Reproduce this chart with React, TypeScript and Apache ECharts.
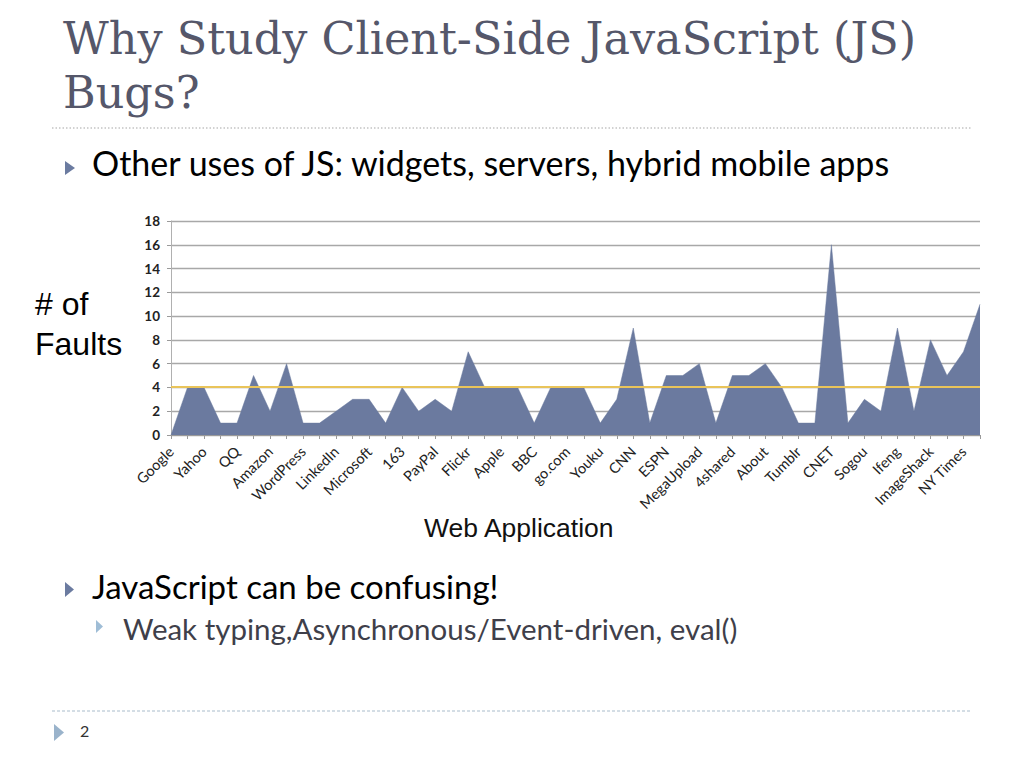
import React, { useEffect, useRef } from "react";
import * as echarts from "echarts";

const categories: string[] = [
  "Google", "Facebook", "Yahoo", "YouTube", "QQ", "Baidu", "Amazon", "Wikipedia",
  "WordPress", "Blogger", "LinkedIn", "Windows Live", "Microsoft", "Twitter", "163", "Taobao",
  "PayPal", "Sina", "Flickr", "MSN", "Apple", "eBay", "BBC", "Bing",
  "go.com", "Yandex", "Youku", "VKontakte", "CNN", "Mail.ru", "ESPN", "Ask",
  "MegaUpload", "Craigslist", "4shared", "IMDb", "About", "Adobe", "Tumblr", "Hao123",
  "CNET", "Soso", "Sogou", "Weibo", "Ifeng", "FC2", "ImageShack", "Rakuten",
  "NY Times", "Orkut",
];

const faults: number[] = [
  0, 4, 4, 1, 1, 5, 2, 6, 1, 1,
  2, 3, 3, 1, 4, 2, 3, 2, 7, 4,
  4, 4, 1, 4, 4, 4, 1, 3, 9, 1,
  5, 5, 6, 1, 5, 5, 6, 4, 1, 1,
  16, 1, 3, 2, 9, 2, 8, 5, 7, 11,
];

const meanFaults = 4.1;
const yTicks = { min: 0, max: 18, interval: 2 };

const titleLines = ["Why Study Client-Side JavaScript (JS)", "Bugs?"];
const bullet1 = "Other uses of JS: widgets, servers, hybrid mobile apps";
const bullet2 = "JavaScript can be confusing!";
const subBullet = "Weak typing,Asynchronous/Event-driven, eval()";
const slideNumber = "2";
const xAxisTitle = "Web Application";
const yAxisTitle = ["# of", "Faults"];

const SANS = "Lato, 'Open Sans', sans-serif";
const ARIAL = "'Liberation Sans', Arial, sans-serif";
const SERIF = "'DejaVu Serif', serif";

function tri(x: number, y: number, w: number, h: number, color: string) {
  return {
    type: "polygon",
    shape: { points: [[x, y], [x + w, y + h / 2], [x, y + h]] },
    style: { fill: color },
  };
}

export default function App() {
  const ref = useRef<HTMLDivElement>(null);

  useEffect(() => {
    if (!ref.current) return;
    const chart = echarts.init(ref.current, undefined, { renderer: "svg" });
    chart.setOption({
      animation: false,
      backgroundColor: "#ffffff",
      grid: { left: 171, right: 44, top: 221, bottom: 333 },
      xAxis: {
        type: "category",
        data: categories,
        boundaryGap: false,
        axisLine: { lineStyle: { color: "#9a9a9a", width: 1 } },
        axisTick: { show: true, interval: 0, length: 4, lineStyle: { color: "#9a9a9a" } },
        axisLabel: {
          interval: 1,
          rotate: 45,
          margin: 14,
          fontFamily: SANS,
          fontSize: 14.5,
          color: "#222",
        },
        splitLine: { show: false },
      },
      yAxis: {
        type: "value",
        min: yTicks.min,
        max: yTicks.max,
        interval: yTicks.interval,
        axisLine: { show: true, lineStyle: { color: "#b0b0b0" } },
        axisTick: { show: true, length: 4, lineStyle: { color: "#9a9a9a" } },
        axisLabel: {
          fontFamily: SANS,
          fontWeight: "bold",
          fontSize: 13.5,
          color: "#222",
          margin: 11,
        },
        splitLine: { lineStyle: { color: "#a8a8a8", width: 1.3 } },
      },
      series: [
        {
          type: "line",
          data: faults,
          symbol: "none",
          lineStyle: { width: 0.5, color: "#6b7a9f" },
          areaStyle: { color: "#6b7a9f", opacity: 1 },
          markLine: {
            silent: true,
            symbol: ["none", "none"],
            label: { show: false },
            lineStyle: { color: "#e9c45a", width: 2, type: "solid" },
            data: [{ yAxis: meanFaults }],
          },
        },
      ],
      graphic: [
        {
          type: "text",
          left: 63,
          top: 16,
          style: { text: titleLines[0], fontFamily: SERIF, fontSize: 44.5, fill: "#55576a" },
        },
        {
          type: "text",
          left: 63,
          top: 70,
          style: { text: titleLines[1], fontFamily: SERIF, fontSize: 44.5, fill: "#55576a" },
        },
        {
          type: "line",
          shape: { x1: 52, y1: 128, x2: 972, y2: 128 },
          style: { stroke: "#c4c4c4", lineWidth: 1.5, lineDash: [1.5, 2] },
        },
        tri(65, 161, 10, 14, "#6b7ba0"),
        {
          type: "text",
          left: 92,
          top: 145,
          style: { text: bullet1, fontFamily: SANS, fontSize: 34, fill: "#000" },
        },
        {
          type: "text",
          left: 35,
          top: 288,
          style: { text: yAxisTitle[0], fontFamily: ARIAL, fontSize: 32, fill: "#000" },
        },
        {
          type: "text",
          left: 35,
          top: 328,
          style: { text: yAxisTitle[1], fontFamily: ARIAL, fontSize: 32, fill: "#000" },
        },
        {
          type: "text",
          left: 424,
          top: 514,
          style: { text: xAxisTitle, fontFamily: ARIAL, fontSize: 26.5, fill: "#111" },
        },
        tri(65, 582, 9, 15, "#6b7ba0"),
        {
          type: "text",
          left: 92,
          top: 569,
          style: { text: bullet2, fontFamily: SANS, fontSize: 33, fill: "#000" },
        },
        tri(96, 620, 7, 13, "#9fbdd6"),
        {
          type: "text",
          left: 123,
          top: 613,
          style: { text: subBullet, fontFamily: SANS, fontSize: 29.5, fill: "#3f3f4a" },
        },
        {
          type: "line",
          shape: { x1: 52, y1: 711, x2: 972, y2: 711 },
          style: { stroke: "#a9bccb", lineWidth: 1, lineDash: [3, 2] },
        },
        tri(54, 724, 10, 17, "#9ab3cb"),
        {
          type: "text",
          left: 80,
          top: 722,
          style: { text: slideNumber, fontFamily: SANS, fontSize: 16, fill: "#333" },
        },
      ],
    });
    return () => chart.dispose();
  }, []);

  return (
    <div
      ref={ref}
      style={{ position: "absolute", left: 0, top: 0, width: 1024, height: 768 }}
    />
  );
}
